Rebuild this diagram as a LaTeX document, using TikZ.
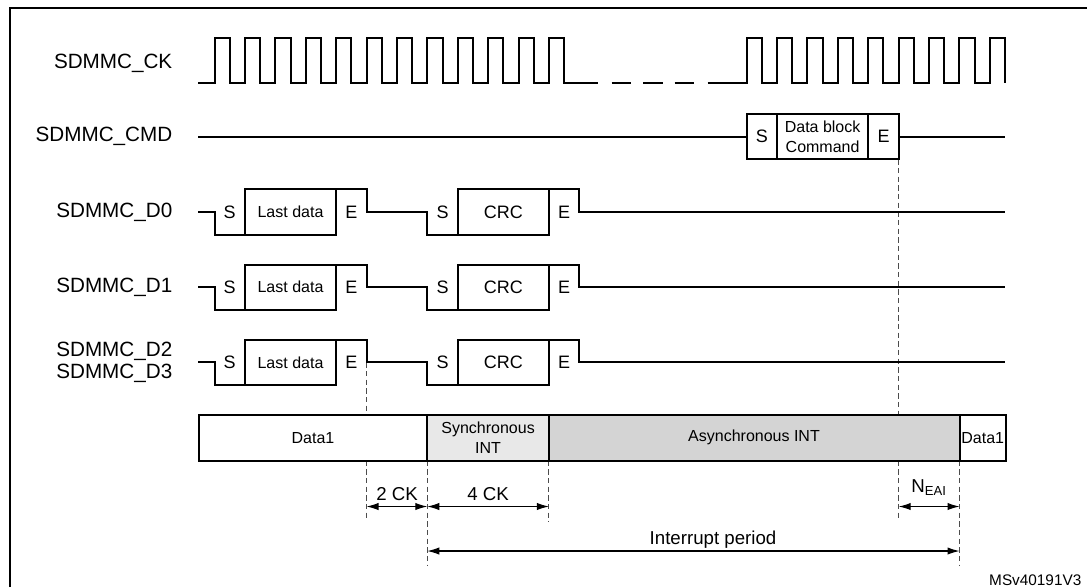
\documentclass[tikz,border=0pt]{standalone}
\usepackage{fontspec}
\setmainfont{Liberation Sans}
\usetikzlibrary{arrows.meta}

\begin{document}
\begin{tikzpicture}[x=0.75pt,y=-0.75pt,
	sig/.style={line width=1.5pt},
	guide/.style={black!70,line width=0.8pt,dash pattern=on 4pt off 2.5pt},
	dim/.style={{Latex[length=9pt,width=5.5pt]}-{Latex[length=9pt,width=5.5pt]},line width=0.8pt},
	signame/.style={anchor=east,align=right,font=\fontsize{15.5}{16.5}\selectfont},
	bitname/.style={font=\fontsize{13.5}{16}\selectfont},
	small/.style={align=center,font=\fontsize{12}{14.5}\selectfont},
	dimtext/.style={font=\fontsize{14}{16}\selectfont}]
	\useasboundingbox (0,0) rectangle (1087,587);
	% frame
	\draw[line width=1.8pt] (10,587) -- (10,8) -- (1087,8);
	% signal names
	\node[signame] (ck) at (177,63) {SDMMC\_CK};
	\node[signame] (cmd) at (177,136.7) {SDMMC\_CMD};
	\node[signame] (d0) at (177,212) {SDMMC\_D0};
	\node[signame] (d1) at (177,287.2) {SDMMC\_D1};
	\node[signame] (d23) at (177,362.4) {SDMMC\_D2\\SDMMC\_D3};
	% guides
	\draw[guide] (366.5,362.4) -- (366.5,415) (366.5,460.5) -- (366.5,518);
	\draw[guide] (898.7,159.3) -- (898.7,415) (898.7,460.5) -- (898.7,520);
	\draw[guide] (427.3,460.5) -- (427.3,565);
	\draw[guide] (548.9,460.5) -- (548.9,521.7);
	\draw[guide] (959.5,460.5) -- (959.5,565);
	% clock
	\draw[sig] (198.3,83.3) \foreach \k in {0,...,11} {-- ({214.5+30.4*\k},83.3) -- ++(0,-45) -- ++(15.2,0) -- ++(0,45)} -- (598,83.3);
	\foreach \a in {611.5,643,674.5} \draw[sig] (\a,83.3) -- ++(19.5,0);
	\draw[sig] (707.5,83.3) \foreach \k in {0,...,8} {-- ({746.6+30.4*\k},83.3) -- ++(0,-45) -- ++(15.2,0) -- ++(0,45)};
	% command line
	\draw[sig] (198.3,136.7) -- (746.6,136.7);
	\draw[sig] (746.6,114) rectangle (898.7,159.3);
	\draw[sig] (777,114) -- (777,159.3) (868.2,114) -- (868.2,159.3);
	\draw[sig] (898.7,136.7) -- (1005,136.7);
	\node[bitname] (cmdS) at (761.8,136.7) {S};
	\node[small] (cmdB) at (822.6,136.7) {Data block\\Command};
	\node[bitname] (cmdE) at (883.5,136.7) {E};
	% data lines
	\foreach \m [count=\i] in {212,287.2,362.4} {
		\draw[sig] (198.3,\m) -- (214.5,\m) -- (214.5,\m+22.7) -- (336.1,\m+22.7) -- (336.1,\m-22.7);
		\draw[sig] (244.9,\m+22.7) -- (244.9,\m-22.7) -- (366.5,\m-22.7) -- (366.5,\m) -- (427.3,\m) -- (427.3,\m+22.7) -- (548.9,\m+22.7) -- (548.9,\m-22.7);
		\draw[sig] (457.7,\m+22.7) -- (457.7,\m-22.7) -- (579.3,\m-22.7) -- (579.3,\m) -- (1005,\m);
		\node[bitname] (s\i) at (229.7,\m) {S};
		\node[small] (last\i) at (290.5,\m) {Last data};
		\node[bitname] (e\i) at (351.3,\m) {E};
		\node[bitname] (t\i) at (442.5,\m) {S};
		\node[bitname] (crc\i) at (503.3,\m) {CRC};
		\node[bitname] (f\i) at (564.1,\m) {E};
	}
	% status bar
	\draw[sig,fill=white] (199,415) rectangle (427.3,460.5);
	\draw[sig,fill=black!9] (427.3,415) rectangle (548.9,460.5);
	\draw[sig,fill=black!17] (548.9,415) rectangle (959.5,460.5);
	\draw[sig,fill=white] (959.5,415) rectangle (1006,460.5);
	\node[small] (data1) at (313,437.7) {Data1};
	\node[small,font=\fontsize{12}{15}\selectfont] (sync) at (488.1,437.7) {Synchronous\\INT};
	\node[small] (async) at (754,437.7) {Asynchronous INT};
	\node[small] (data1b) at (982.7,437.7) {Data1};
	% timing
	\coordinate (a1) at (366.5,506.5);
	\coordinate (a2) at (427.3,506.5);
	\coordinate (a3) at (548.9,506.5);
	\coordinate (a4) at (898.7,506.5);
	\coordinate (a5) at (959.5,506.5);
	\coordinate (p1) at (427.3,551);
	\coordinate (p2) at (959.5,551);
	\draw[dim] (a1) -- (a2);
	\draw[dim] (a2) -- (a3);
	\draw[dim] (a4) -- (a5);
	\draw[dim] (p1) -- (p2);
	\node[dimtext] (ck2) at (397,494) {2 CK};
	\node[dimtext] (ck4) at (488,494) {4 CK};
	\node[dimtext] (neai) at (929,488) {N\textsubscript{EAI}};
	\node[dimtext] (period) at (713,540) {Interrupt period};
	\node[anchor=east,font=\fontsize{11.5}{13}\selectfont] (ref) at (1086,580) {MSv40191V3};
\end{tikzpicture}
\end{document}
